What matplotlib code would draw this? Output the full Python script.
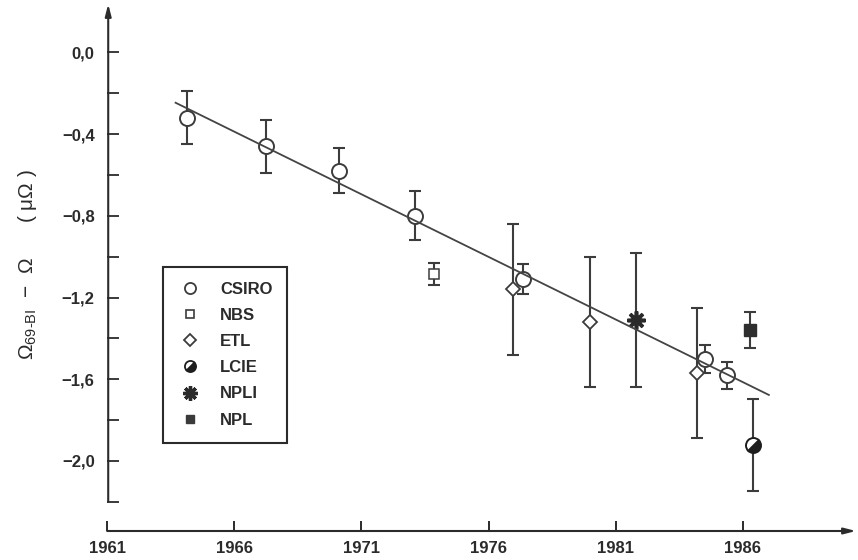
import matplotlib
matplotlib.use("Agg")
import matplotlib.pyplot as plt
from matplotlib.lines import Line2D
from matplotlib.markers import MarkerStyle
from matplotlib.transforms import Affine2D

plt.rcParams["font.family"] = ["Liberation Sans", "DejaVu Sans"]
plt.rcParams["mathtext.fontset"] = "custom"
plt.rcParams["mathtext.rm"] = "Liberation Sans"
plt.rcParams["mathtext.it"] = "Liberation Sans:italic"
plt.rcParams["mathtext.bf"] = "Liberation Sans:bold"

# ---- measurements: year, deviation (µΩ), uncertainty (µΩ) ----
csiro_years = [1964.15, 1967.23, 1970.10, 1973.10, 1977.35, 1984.51, 1985.39]
csiro_values = [-0.32, -0.46, -0.58, -0.80, -1.11, -1.50, -1.58]
csiro_err = [0.13, 0.13, 0.11, 0.12, 0.075, 0.07, 0.066]

nbs_years = [1973.85]
nbs_values = [-1.085]
nbs_err = [0.053]

etl_years = [1976.97, 1980.01, 1984.21]
etl_values = [-1.16, -1.32, -1.57]
etl_err = [0.32, 0.32, 0.32]

lcie_years = [1986.40]
lcie_values = [-1.92]
lcie_err = [0.225]

npli_years = [1981.82]
npli_values = [-1.31]
npli_err = [0.33]

npl_years = [1986.27]
npl_values = [-1.36]
npl_err = [0.087]

# least-squares drift line (end points)
fit_years = [1963.69, 1987.03]
fit_values = [-0.246, -1.677]

labels = ["CSIRO", "NBS", "ETL", "LCIE", "NPLI", "NPL"]

x_ticks = [1961, 1966, 1971, 1976, 1981, 1986]
x_tick_labels = ["1961", "1966", "1971", "1976", "1981", "1986"]
y_major = [0.0, -0.4, -0.8, -1.2, -1.6, -2.0]
y_major_labels = ["0,0", "\u22120,4", "\u22120,8", "\u22121,2", "\u22121,6", "\u22122,0"]
y_minor = [-0.2, -0.6, -1.0, -1.4, -1.8, -2.2]

ink = "#2b2b2b"
mark = "#3c3c3c"

W, H = 858, 560
fig = plt.figure(figsize=(W / 100, H / 100), dpi=100)
x0, x1 = 107.2, 856.0
ytop, ybot = 4.0, 531.0
ax = fig.add_axes([x0 / W, (H - ybot) / H, (x1 - x0) / W, (ybot - ytop) / H])

px_per_year = 25.42
px_per_unit = 204.2
ax.set_xlim(1961, 1961 + (x1 - x0) / px_per_year)
ax.set_ylim(-(ybot - 52.5) / px_per_unit, (52.5 - ytop) / px_per_unit)

for s in ax.spines.values():
    s.set_visible(False)

# axis lines with arrow heads
xl = ax.get_xlim()
yl = ax.get_ylim()
arrow = dict(arrowstyle="-|>,head_length=0.7,head_width=0.18", color=ink,
             lw=1.5, shrinkA=0, shrinkB=0)
ax.annotate("", xy=(xl[1], yl[0]), xytext=(xl[0], yl[0]),
            arrowprops=arrow, annotation_clip=False)
ax.annotate("", xy=(xl[0] + 0.04, yl[1]), xytext=(xl[0] + 0.04, -2.2),
            arrowprops=arrow, annotation_clip=False)

# ticks
ax.set_xticks(x_ticks)
ax.set_xticklabels(x_tick_labels)
ax.set_yticks(y_major)
ax.set_yticklabels(y_major_labels)
ax.set_yticks(y_minor, minor=True)
ax.tick_params(axis="x", direction="in", length=7, width=1.4, color=ink,
               labelsize=12, labelcolor=ink, pad=7.5)
ax.tick_params(axis="y", which="both", direction="in", length=8.5, width=1.3,
               color=ink, labelsize=12, labelcolor=ink, pad=9)
for lab in ax.get_xticklabels() + ax.get_yticklabels():
    lab.set_fontweight("bold")

eb = dict(fmt="none", ecolor=mark, elinewidth=1.5, capsize=4.2, capthick=1.5, zorder=2)

# error bars
ax.errorbar(csiro_years, csiro_values, yerr=csiro_err, **eb)
ax.errorbar(nbs_years, nbs_values, yerr=nbs_err, **eb)
ax.errorbar(etl_years, etl_values, yerr=etl_err, **eb)
ax.errorbar(lcie_years, lcie_values, yerr=lcie_err, **eb)
ax.errorbar(npli_years, npli_values, yerr=npli_err, **eb)
ax.errorbar(npl_years, npl_values, yerr=npl_err, **eb)

# markers
half = MarkerStyle("o", fillstyle="bottom", transform=Affine2D().rotate_deg(45))
ax.plot(etl_years, etl_values, ls="none", marker="D", ms=7.6, mfc="white",
        mec=mark, mew=1.3, zorder=3)
ax.plot(csiro_years, csiro_values, ls="none", marker="o", ms=10.8, mfc="white",
        mec=mark, mew=1.4, zorder=4)
ax.plot(nbs_years, nbs_values, ls="none", marker="s", ms=7.8, mfc="white",
        mec=mark, mew=1.1, zorder=4)
ax.plot(lcie_years, lcie_values, ls="none", marker=half, ms=10.8, mfc="#1e1e1e",
        mfcalt="white", mec="#1e1e1e", mew=1.4, zorder=4)
ax.plot(npli_years, npli_values, ls="none", marker=(8, 2, 0), ms=13,
        mec="#2a2a2a", mew=2.6, zorder=4)
ax.plot(npl_years, npl_values, ls="none", marker="s", ms=8.3, mfc="#2e2e2e",
        mec="#2e2e2e", mew=1.0, zorder=4)

# drift line
ax.plot(fit_years, fit_values, color="#444444", lw=1.3, zorder=5)

# legend
handles = [
    Line2D([], [], ls="none", marker="o", ms=8.0, mfc="white", mec=mark, mew=1.3),
    Line2D([], [], ls="none", marker="s", ms=6.0, mfc="white", mec=mark, mew=1.2),
    Line2D([], [], ls="none", marker="D", ms=6.3, mfc="white", mec=mark, mew=1.3),
    Line2D([], [], ls="none", marker=half, ms=8.0, mfc="#1e1e1e", mfcalt="white",
           mec="#1e1e1e", mew=1.3),
    Line2D([], [], ls="none", marker=(8, 2, 0), ms=10.5, mec="#2a2a2a", mew=2.4),
    Line2D([], [], ls="none", marker="s", ms=6.3, mfc="#3a3a3a", mec="#3a3a3a", mew=1.0),
]
leg = ax.legend(handles, labels, loc="upper left",
                bbox_to_anchor=(163.3 / W, 1 - 266.7 / H),
                bbox_transform=fig.transFigure, borderaxespad=0,
                prop=dict(size=12, weight="bold"), labelcolor=ink,
                frameon=True, fancybox=False, edgecolor=ink, framealpha=1,
                borderpad=0.9, labelspacing=0.67, handlelength=1.45,
                handletextpad=1.05)
leg.get_frame().set_linewidth(1.5)

# y label
ylabel = r"$\Omega_{\text{69-BI}}$" + "  \u2212  \u03a9      ( \u03bc\u03a9 )"
fig.text(28 / W, 1 - 265 / H, ylabel, rotation=90, ha="center", va="center",
         fontsize=15, color=ink)

fig.savefig("out.png", dpi=100)
